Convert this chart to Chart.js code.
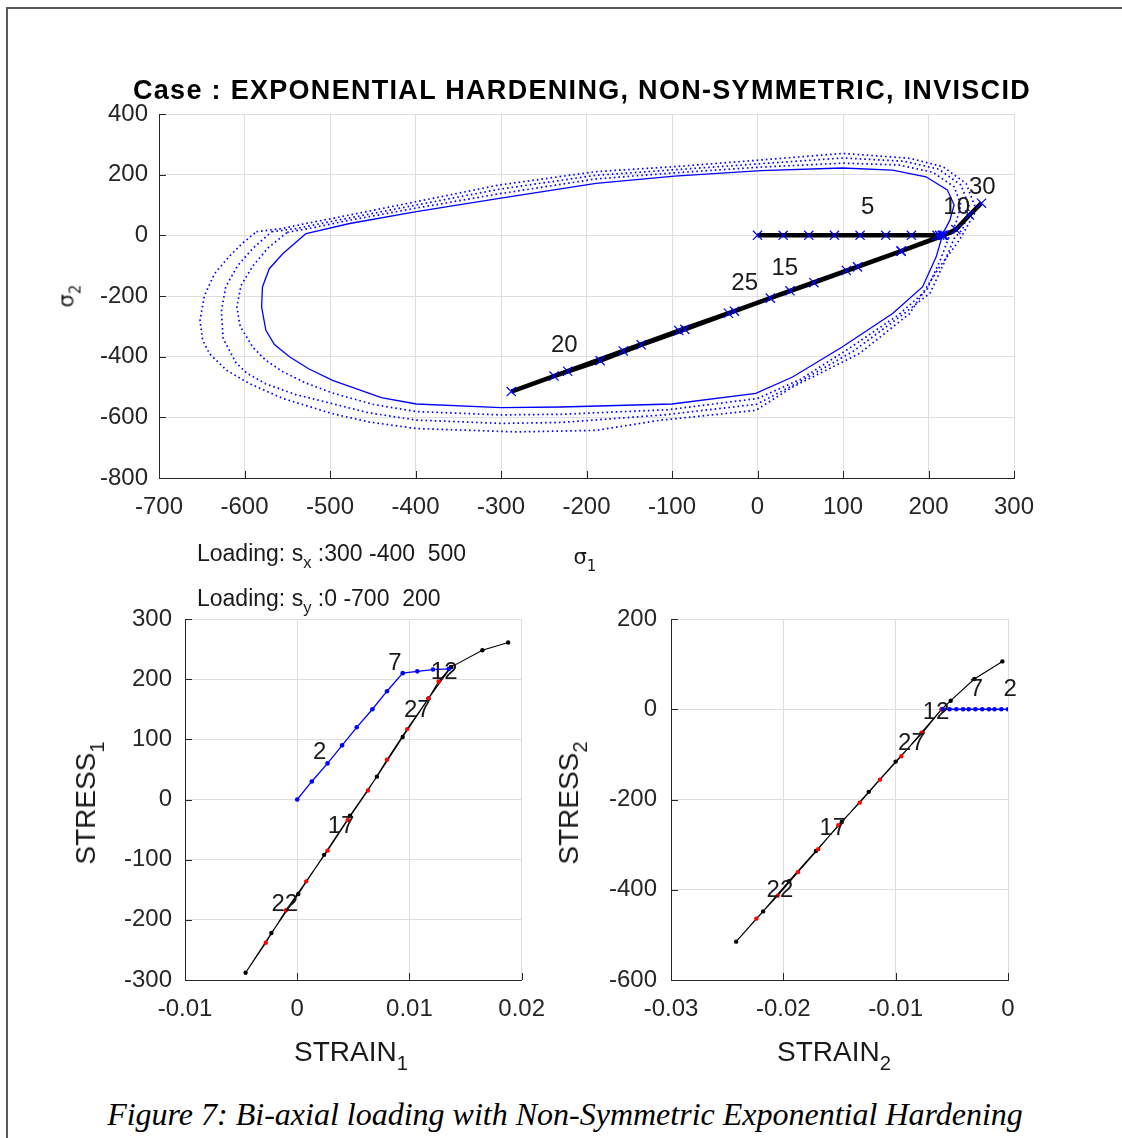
<!DOCTYPE html>
<html lang="en">
<head>
<meta charset="UTF-8">
<title>Bi-axial loading with Non-Symmetric Exponential Hardening</title>
<script src="https://cdn.jsdelivr.net/npm/chart.js"></script>
<style>
    body { margin: 0; width: 1122px; height: 1138px; position: relative; overflow: hidden; background: #fff;
           font-family: "Liberation Sans", Arial, sans-serif; color: #1a1a1a; }
    .frame { position: absolute; left: 6px; top: 7px; width: 1300px; height: 1300px;
             border-left: 2px solid #5a5a5a; border-top: 2px solid #5a5a5a; }
    canvas { position: absolute; }
    .txt { position: absolute; white-space: pre; line-height: 1; transform: translate(-50%, -50%); }
    .rot { transform: translate(-50%, -50%) rotate(-90deg); }
    sub { font-size: 0.72em; vertical-align: baseline; position: relative; top: 0.45em; }
</style>
</head>
<body>
<div class="frame"></div>

<canvas id="topChart" width="1122" height="530" style="left:0;top:0"></canvas>
<canvas id="leftChart" width="560" height="500" style="left:0;top:540px"></canvas>
<canvas id="rightChart" width="562" height="500" style="left:560px;top:540px"></canvas>

<div class="txt" style="left:582px;top:90px;font-weight:bold;font-size:27px;letter-spacing:1.3px;color:#000">Case : EXPONENTIAL HARDENING, NON-SYMMETRIC, INVISCID</div>
<div class="txt rot" style="left:67px;top:296px;font-size:21px;font-family:'DejaVu Sans'">σ<sub>2</sub></div>
<div class="txt" style="left:585px;top:557px;font-size:21px;font-family:'DejaVu Sans'">σ<sub>1</sub></div>
<div class="txt" style="left:197px;top:553px;transform:translate(0,-50%);font-size:23px">Loading: s<sub>x</sub> :300 -400  500</div>
<div class="txt" style="left:197px;top:598px;transform:translate(0,-50%);font-size:23px">Loading: s<sub>y</sub> :0 -700  200</div>
<div class="txt rot" style="left:86px;top:803px;font-size:28px">STRESS<sub>1</sub></div>
<div class="txt" style="left:351px;top:1052px;font-size:28px">STRAIN<sub>1</sub></div>
<div class="txt rot" style="left:569px;top:803px;font-size:28px">STRESS<sub>2</sub></div>
<div class="txt" style="left:834px;top:1052px;font-size:28px">STRAIN<sub>2</sub></div>
<div class="txt" style="left:565px;top:1114px;font-size:32px;font-style:italic;font-family:'Liberation Serif','Times New Roman',serif;color:#000">Figure 7: Bi-axial loading with Non-Symmetric Exponential Hardening</div>

<script>
// ---- tick values ----
const sig1Ticks = [-700, -600, -500, -400, -300, -200, -100, 0, 100, 200, 300];
const sig2Ticks = [-800, -600, -400, -200, 0, 200, 400];
const strain1Ticks = [-0.01, 0, 0.01, 0.02];
const stress1Ticks = [-300, -200, -100, 0, 100, 200, 300];
const strain2Ticks = [-0.03, -0.02, -0.01, 0];
const stress2Ticks = [-600, -400, -200, 0, 200];

// ---- yield surfaces (sigma1, sigma2), inner to outer ----
const surf1X = [-528, -477, -399, -302, -189, -97, 4, 99, 158, 197, 222, 230, 225, 217, 209, 193, 158, 99, 41, -2, -100, -230, -300, -399, -440, -497, -525, -547, -565, -575, -580, -579, -571, -555, -528];
const surf1Y = [6, 39, 78, 122, 171, 195, 213, 222, 215, 193, 150, 100, 50, 7, -71, -170, -258, -368, -467, -521, -556, -566, -568, -556, -535, -478, -440, -401, -360, -313, -236, -170, -110, -60, 6];
const surf2X = [-550, -520, -477, -399, -302, -189, -97, 4, 100, 165, 205, 230, 238, 232, 224, 214, 198, 165, 106, 50, 0, -105, -230, -300, -399, -450, -497, -528, -555, -575, -590, -605, -609, -604, -590, -572, -550];
const surf2Y = [10, 25, 50, 90, 137, 186, 206, 225, 238, 232, 208, 160, 100, 40, -5, -80, -180, -262, -375, -475, -538, -575, -590, -592, -581, -557, -520, -487, -450, -412, -370, -300, -236, -165, -100, -40, 10];
const surf3X = [-568, -540, -500, -399, -302, -189, -98, 3, 100, 172, 212, 238, 248, 240, 230, 218, 202, 170, 112, 46, -1, -110, -230, -300, -399, -455, -497, -540, -575, -597, -610, -625, -627, -622, -608, -590, -568];
const surf3Y = [12, 22, 45, 100, 152, 198, 216, 236, 255, 244, 218, 166, 92, 20, -10, -92, -190, -261, -382, -488, -557, -592, -617, -620, -609, -585, -555, -525, -490, -455, -420, -340, -250, -170, -100, -42, 12];
const surf4X = [-586, -555, -528, -477, -399, -302, -189, -99, 2, 100, 178, 217, 244, 256, 236, 213, 178, 119, 41, -2, -115, -189, -282, -399, -455, -497, -555, -594, -621, -641, -649, -652, -647, -635, -618, -602, -586];
const surf4Y = [12, 23, 39, 67, 111, 166, 210, 226, 248, 270, 254, 226, 171, 83, -16, -104, -258, -390, -500, -577, -610, -643, -648, -637, -615, -588, -538, -489, -445, -390, -345, -280, -200, -126, -70, -25, 12];

// ---- stress path in the sigma1-sigma2 plane ----
const sig1Path = [0, 30, 60, 90, 120, 150, 180, 210, 213, 216, 217, 168, 104, 38, -27, -92, -157, -222, -288, -238, -184, -136, -85, -34, 15, 66, 117, 168, 218, 232, 248, 262];
const sig2Path = [0, 0, 0, 0, 0, 0, 0, 0, 0, 0, 0, -52, -116, -183, -250, -314, -381, -448, -515, -464, -413, -361, -310, -257, -207, -156, -104, -52, 0, 19, 67, 106];

// ---- stress1 vs strain1 ----
const e1Load = [0, 0.0013, 0.0027, 0.0040, 0.0053, 0.0067, 0.0080, 0.0094, 0.0107, 0.0121, 0.0135];
const s1Load = [0, 30, 60, 90, 120, 150, 180, 210, 213, 216, 217];
const e1Down = [0.0137, 0.0117, 0.0094, 0.0071, 0.0047, 0.0024, 0.0001, -0.0023, -0.0046];
const s1Down = [220, 168, 104, 38, -27, -92, -157, -222, -288];
const e1Up = [-0.0028, -0.0010, 0.0008, 0.0027, 0.0045, 0.0063, 0.0080, 0.0098, 0.0117, 0.0126];
const s1Up = [-238, -184, -136, -85, -34, 15, 66, 117, 168, 196];
const e1End = [0.0137, 0.0165, 0.0188];
const s1End = [220, 248, 261];

// ---- stress2 vs strain2 ----
const e2Load = [0, -0.0006, -0.0012, -0.0017, -0.0023, -0.0029, -0.0035, -0.0040, -0.0046, -0.0052, -0.0058];
const s2Load = [0, 0, 0, 0, 0, 0, 0, 0, 0, 0, 0];
const e2Down = [-0.0059, -0.0076, -0.0100, -0.0124, -0.0148, -0.0171, -0.0195, -0.0218, -0.0242];
const s2Down = [0, -52, -116, -183, -250, -314, -381, -448, -515];
const e2Up = [-0.0224, -0.0205, -0.0187, -0.0169, -0.0151, -0.0132, -0.0114, -0.0095, -0.0077, -0.0059];
const s2Up = [-464, -413, -361, -310, -257, -207, -156, -104, -52, 0];
const e2End = [-0.0051, -0.0030, -0.0005];
const s2End = [19, 67, 106];

// ---- step number labels ----
const topLabText = ['5', '10', '30', '15', '25', '20'];
const topLabX = [129, 233, 263, 32, -15, -226];
const topLabY = [93, 93, 159, -108, -158, -362];
const leftLabText = ['7', '2', '12', '27', '17', '22'];
const leftLabX = [0.0087, 0.0020, 0.0131, 0.0107, 0.0039, -0.0011];
const leftLabY = [226, 79, 211, 148, -44, -175];
const rightLabText = ['2', '7', '12', '27', '17', '22'];
const rightLabX = [0.0002, -0.0028, -0.0064, -0.0086, -0.0156, -0.0203];
const rightLabY = [43, 43, -6, -75, -263, -401];

const FONT = '"Liberation Sans", Arial, sans-serif';
const GRID = '#dedede';
const AXIS = '#262626';
const BLUE = '#0000ff';

function pts(xs, ys) {
    return xs.map((v, i) => ({ x: v, y: ys[i] }));
}

// MATLAB style ticks pointing into the plot
const innerTicks = {
    id: 'innerTicks',
    afterDraw(chart) {
        const { ctx, chartArea: a, scales } = chart;
        ctx.save();
        ctx.strokeStyle = AXIS;
        ctx.lineWidth = 1;
        ctx.beginPath();
        scales.x.ticks.forEach(t => {
            const p = Math.round(scales.x.getPixelForValue(t.value)) + 0.5;
            ctx.moveTo(p, a.bottom);
            ctx.lineTo(p, a.bottom - 7);
        });
        scales.y.ticks.forEach(t => {
            const p = Math.round(scales.y.getPixelForValue(t.value)) + 0.5;
            ctx.moveTo(a.left, p);
            ctx.lineTo(a.left + 7, p);
        });
        ctx.stroke();
        ctx.restore();
    }
};

const stepLabels = {
    id: 'stepLabels',
    afterDatasetsDraw(chart, args, opts) {
        const { ctx, scales } = chart;
        ctx.save();
        ctx.font = '24px ' + FONT;
        ctx.fillStyle = '#1a1a1a';
        ctx.textAlign = 'center';
        ctx.textBaseline = 'middle';
        opts.text.forEach((t, i) => {
            ctx.fillText(t, scales.x.getPixelForValue(opts.x[i]), scales.y.getPixelForValue(opts.y[i]));
        });
        ctx.restore();
    }
};

function axis(min, max, ticks, size, pad, isX) {
    return {
        type: 'linear', min: min, max: max,
        afterBuildTicks: s => { s.ticks = ticks.map(v => ({ value: v })); },
        afterFit: s => { if (isX) s.height = size; else s.width = size; },
        grid: { color: GRID, lineWidth: 1, drawTicks: false },
        border: { display: true, color: AXIS, width: 1 },
        ticks: { color: AXIS, font: { family: FONT, size: 24 }, padding: pad, autoSkip: false, maxRotation: 0,
                 callback: v => String(v) }
    };
}

function options(padding, xAx, yAx, labels) {
    return {
        responsive: false, animation: false, devicePixelRatio: 1,
        layout: { padding: padding },
        plugins: { legend: { display: false }, tooltip: { enabled: false }, stepLabels: labels },
        scales: { x: xAx, y: yAx }
    };
}

function surface(xs, ys, dotted, order) {
    return { data: pts(xs, ys), showLine: true, borderColor: BLUE, borderWidth: dotted ? 1.7 : 1.3,
             borderDash: dotted ? [1.6, 3] : [], pointRadius: 0, tension: 0, order: order };
}

// top: yield surfaces with stress path
new Chart(document.getElementById('topChart'), {
    type: 'scatter',
    data: { datasets: [
        { data: pts(sig1Path, sig2Path), showLine: false, pointStyle: 'crossRot', pointRadius: 6.5,
          borderColor: BLUE, borderWidth: 1.2, backgroundColor: 'transparent', order: 0 },
        { data: pts(sig1Path, sig2Path), showLine: true, borderColor: '#000', borderWidth: 4.5,
          pointRadius: 0, tension: 0, order: 1 },
        surface(surf1X, surf1Y, false, 2),
        surface(surf2X, surf2Y, true, 3),
        surface(surf3X, surf3Y, true, 4),
        surface(surf4X, surf4Y, true, 5)
    ] },
    options: options({ left: 99, right: 108, top: 114, bottom: 12 },
        axis(-700, 300, sig1Ticks, 40, 15, true),
        axis(-800, 400, sig2Ticks, 60, 11, false),
        { text: topLabText, x: topLabX, y: topLabY }),
    plugins: [innerTicks, stepLabels]
});

function strainSets(eL, sL, eD, sD, eU, sU, eE, sE) {
    const lineX = [eL[eL.length - 1]].concat(eD, eU, eE);
    const lineY = [sL[sL.length - 1]].concat(sD, sU, sE);
    return [
        { data: pts(eL, sL), showLine: true, borderColor: BLUE, borderWidth: 1.3, pointRadius: 2.3,
          pointBackgroundColor: BLUE, pointBorderWidth: 0, tension: 0, order: 0 },
        { data: pts(eU, sU), showLine: false, pointRadius: 2.2, pointBackgroundColor: '#ff0000',
          pointBorderWidth: 0, order: 1 },
        { data: pts(eD.concat(eE), sD.concat(sE)), showLine: false, pointRadius: 2.2,
          pointBackgroundColor: '#000', pointBorderWidth: 0, order: 2 },
        { data: pts(lineX, lineY), showLine: true, borderColor: '#000', borderWidth: 1.1, pointRadius: 0,
          tension: 0, order: 3 }
    ];
}

// bottom left: stress1 vs strain1
new Chart(document.getElementById('leftChart'), {
    type: 'scatter',
    data: { datasets: strainSets(e1Load, s1Load, e1Down, s1Down, e1Up, s1Up, e1End, s1End) },
    options: options({ left: 115, right: 37, top: 79, bottom: 20 },
        axis(-0.01, 0.02, strain1Ticks, 40, 15, true),
        axis(-300, 300, stress1Ticks, 70, 13, false),
        { text: leftLabText, x: leftLabX, y: leftLabY }),
    plugins: [innerTicks, stepLabels]
});

// bottom right: stress2 vs strain2
new Chart(document.getElementById('rightChart'), {
    type: 'scatter',
    data: { datasets: strainSets(e2Load, s2Load, e2Down, s2Down, e2Up, s2Up, e2End, s2End) },
    options: options({ left: 41, right: 114, top: 79, bottom: 20 },
        axis(-0.03, 0, strain2Ticks, 40, 15, true),
        axis(-600, 200, stress2Ticks, 70, 14, false),
        { text: rightLabText, x: rightLabX, y: rightLabY }),
    plugins: [innerTicks, stepLabels]
});
</script>
</body>
</html>
